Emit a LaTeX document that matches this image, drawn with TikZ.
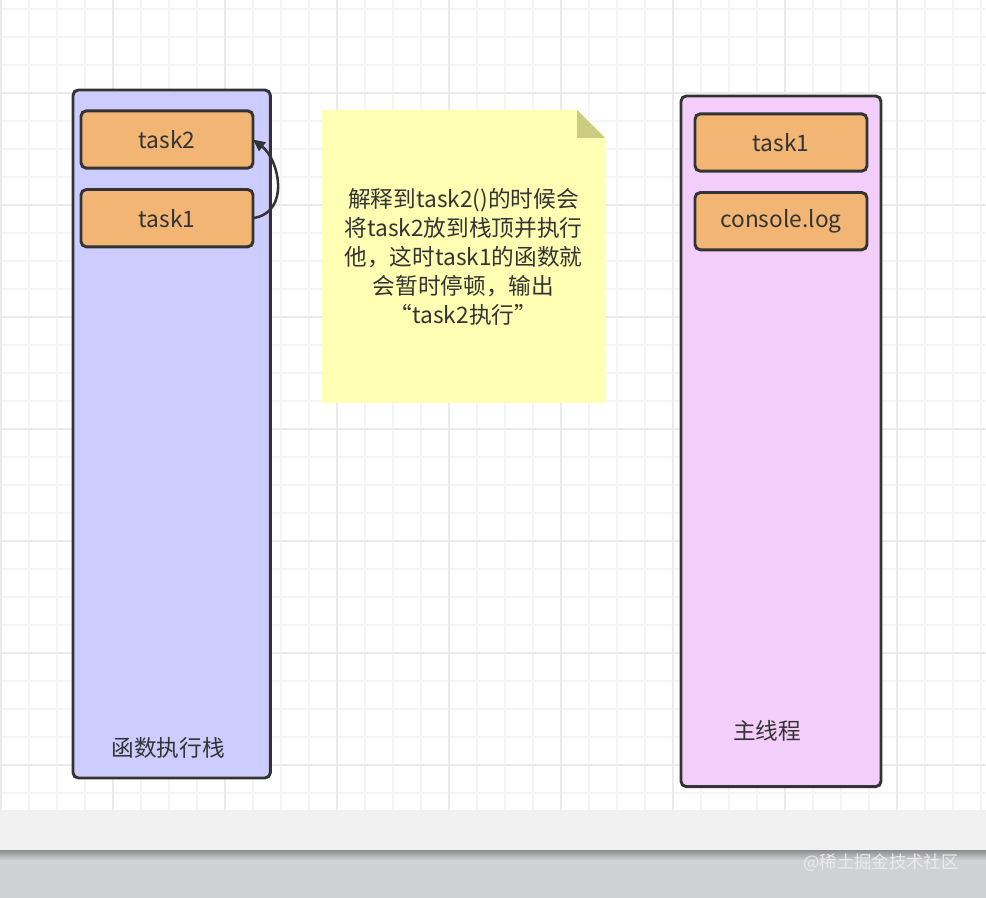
\documentclass[tikz,border=0pt]{standalone}
\usepackage{fontspec}
\setmainfont{Noto Sans CJK SC}
\usetikzlibrary{arrows.meta,positioning}
\definecolor{StackBlue}{RGB}{204,204,255}
\definecolor{ThreadPink}{RGB}{243,206,250}
\definecolor{TaskOrange}{RGB}{242,181,115}
\definecolor{NoteYellow}{RGB}{255,255,179}
\definecolor{NoteFold}{RGB}{204,204,128}
\definecolor{LineDark}{RGB}{51,51,51}
\definecolor{GridMinor}{RGB}{245,245,245}
\definecolor{GridMajor}{RGB}{234,234,234}
\definecolor{BandGray}{RGB}{241,241,241}
\definecolor{FootGray}{RGB}{208,209,212}

\begin{document}
\begin{tikzpicture}[x=.75pt,y=-.75pt,
  box/.style={draw=LineDark,line width=2.2pt,rounded corners=4pt,inner sep=0pt,outer sep=0pt},
  frame/.style={box,anchor=north west,minimum width=148pt},
  task/.style={box,fill=TaskOrange,minimum width=129pt,minimum height=43pt,text=LineDark,font=\fontsize{17}{20}\selectfont},
  lbl/.style={text=LineDark,font=\fontsize{17}{20}\selectfont},
  flow/.style={draw=LineDark,line width=1.9pt,-{Triangle[length=9pt,width=8pt]}}]
\useasboundingbox (0,0) rectangle (986,898);
% grid
\foreach \k in {0,...,35} \draw[GridMinor,line width=1.1pt] ({1+28*\k},0)--({1+28*\k},810);
\foreach \k in {0,...,28} \draw[GridMinor,line width=1.1pt] (0,{9+28*\k})--(986,{9+28*\k});
\foreach \k in {0,...,8} \draw[GridMajor,line width=1.4pt] ({1+112*\k},0)--({1+112*\k},810);
\foreach \k in {0,...,6} \draw[GridMajor,line width=1.4pt] (0,{93+112*\k})--(986,{93+112*\k});
\fill[BandGray] (0,810) rectangle (986,850);
\shade[top color=black!45,bottom color=FootGray] (0,850) rectangle (986,860);\fill[FootGray] (0,860) rectangle (986,898);
\node[text=white!92!black,font=\fontsize{13}{15}\selectfont] (mark) at (881,863) {@稀土掘金技术社区};

% stack and thread
\node[frame,fill=StackBlue,minimum height=516pt] (stack) at (73,90) {};
\node[frame,fill=ThreadPink,minimum width=150pt,minimum height=518pt] (thread) at (681,96) {};
\node[task] (s2) at (167,139.5) {task2};\node[task,below=16pt of s2] (s1) {task1};
\node[task] (t1) at (781,142.5) {task1};\node[task,below=16pt of t1] (tlog) {console.log};
\node[lbl] (stacklbl) at (168,748) {函数执行栈};\node[lbl] (threadlbl) at (767,731) {主线程};
\draw[flow] (s1.east) .. controls +(38,-6) and +(26,20) .. (s2.east);

% note
\fill[NoteYellow] (322,110)--(577,110)--(605,138)--(605,403)--(322,403)--cycle;
\fill[NoteFold] (577,110)--(605,138)--(577,138)--cycle;
\node[lbl,align=center,font=\fontsize{17}{21.75}\selectfont] (note) at (463.5,257) {解释到task2()的时候会\\将task2放到栈顶并执行\\他，这时task1的函数就\\会暂时停顿，输出\\“task2执行”};
\end{tikzpicture}
\end{document}
